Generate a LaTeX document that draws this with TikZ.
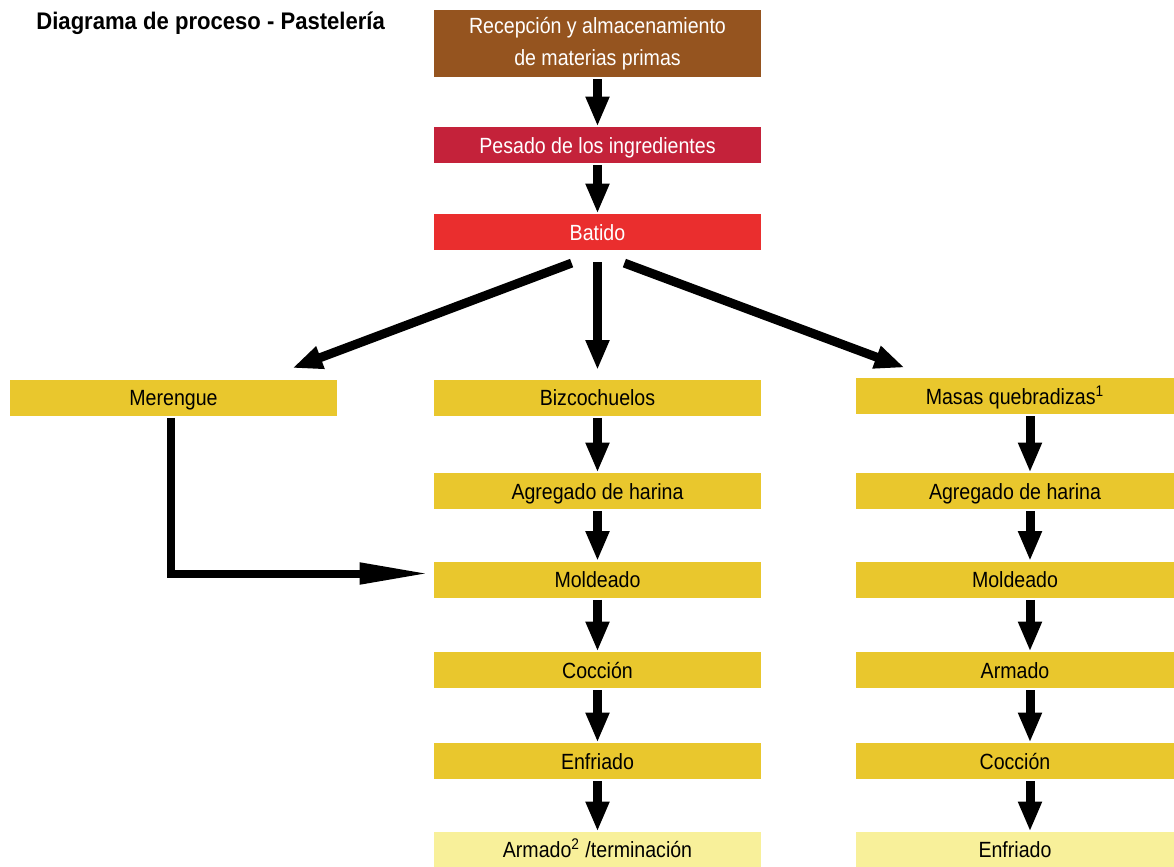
\documentclass[tikz,border=0pt]{standalone}
\usepackage{fontspec}
\setmainfont{Liberation Sans}
\newfontfamily\boxfont[FakeStretch=0.89]{Liberation Sans}
\newfontfamily\headfont[FakeStretch=0.92]{Liberation Sans}
\usetikzlibrary{arrows.meta,calc}
\definecolor{store brown}{HTML}{95541F}
\definecolor{weigh red}{HTML}{C4223A}
\definecolor{beat red}{HTML}{EA2E2E}
\definecolor{dough yellow}{HTML}{E9C72D}
\definecolor{end yellow}{HTML}{F8F09A}
\tikzset{
  stage/.style={rectangle, inner sep=0pt, minimum width=163.5pt, minimum height=18pt,
    text height=8pt, text depth=0pt, align=center, font=\boxfont\fontsize{11}{16}\selectfont},
  upper/.style={stage, text=white},
  dough/.style={stage, fill=dough yellow},
  closing/.style={stage, fill=end yellow},
  flow/.style={-{Triangle[length=15pt,width=11pt]}, line width=4.5pt, shorten <=1pt},
  longflow/.style={-{Triangle[length=35pt,width=10pt]}, line width=4pt}
}
\tikzstyle{title}=[anchor=base west, inner sep=0pt, font=\headfont\fontsize{12}{14}\selectfont\bfseries]

\begin{document}
\begin{tikzpicture}[x=0.5pt, y=-0.5pt]
  \useasboundingbox (0,0) rectangle (1174,867);

  \node[title] (head) at (36,29) {Diagrama de proceso - Pastelería};

  \node[upper, fill=store brown, minimum height=33.5pt, text height=, text depth=] (rec) at (597.5,43.5)
    {Recepción y almacenamiento\\de materias primas};
  \node[upper, fill=weigh red] (pes) at (597.5,145) {Pesado de los ingredientes};
  \node[upper, fill=beat red] (bat) at (597.5,232) {Batido};

  \node[dough] (mer) at (173.5,397.5) {Merengue};
  \node[dough] (biz) at (597.5,397.5) {Bizcochuelos};
  \node[dough, minimum width=159pt] (mas) at (1015,396) {Masas quebradizas\textsuperscript{1}};

  % central column
  \node[dough] (agr1) at (597.5,491) {Agregado de harina};
  \node[dough] (mol1) at (597.5,579.5) {Moldeado};
  \node[dough] (coc1) at (597.5,670) {Cocción};
  \node[dough] (enf1) at (597.5,761) {Enfriado};
  \node[closing, minimum height=17.5pt] (ter) at (597.5,849.5) {Armado\textsuperscript{2} /terminación};

  % right column
  \node[dough, minimum width=159pt] (agr2) at (1015,491) {Agregado de harina};
  \node[dough, minimum width=159pt] (mol2) at (1015,579.5) {Moldeado};
  \node[dough, minimum width=159pt] (arm2) at (1015,670) {Armado};
  \node[dough, minimum width=159pt] (coc2) at (1015,761) {Cocción};
  \node[closing, minimum width=159pt, minimum height=17.5pt] (enf2) at (1015,849.5) {Enfriado};

  \coordinate (rx) at (1030,0);

  \draw[flow] (rec.south) -- (pes.north);
  \draw[flow] (pes.south) -- (bat.north);

  \draw[flow] ($(bat.south)+(-24,12)$) -- ($(mer.north east)+(-45,-11)$);
  \draw[flow] ($(bat.south)+(0,10)$) -- ($(biz.north)+(0,-9)$);
  \draw[flow] ($(bat.south)+(25,12)$) -- ($(mas.north west)+(49,-10)$);

  \draw[longflow] ($(mer.south)+(-3,2)$) |- ($(mol1.west)+(-4,-6)$);

  \draw[flow] (biz.south) -- (agr1.north);
  \draw[flow] (agr1.south) -- (mol1.north);
  \draw[flow] (mol1.south) -- (coc1.north);
  \draw[flow] (coc1.south) -- (enf1.north);
  \draw[flow] (enf1.south) -- (ter.north);

  \draw[flow] (mas.south -| rx) -- (agr2.north -| rx);
  \draw[flow] (agr2.south -| rx) -- (mol2.north -| rx);
  \draw[flow] (mol2.south -| rx) -- (arm2.north -| rx);
  \draw[flow] (arm2.south -| rx) -- (coc2.north -| rx);
  \draw[flow] (coc2.south -| rx) -- (enf2.north -| rx);

\end{tikzpicture}
\end{document}
